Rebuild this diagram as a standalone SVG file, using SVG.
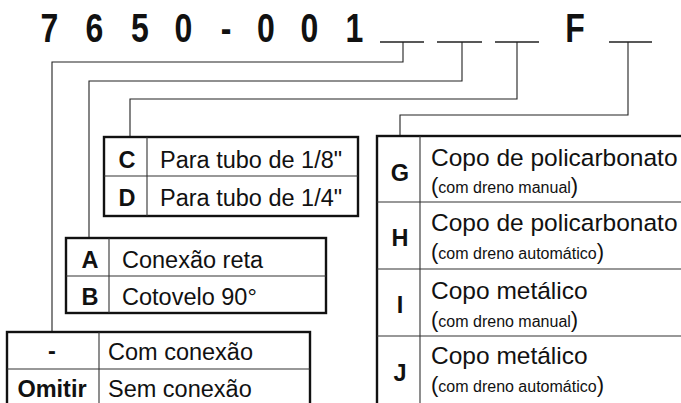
<svg xmlns="http://www.w3.org/2000/svg" width="681" height="403" viewBox="0 0 681 403">
<style>
.box{fill:none;stroke:#111;stroke-width:2.4}
.div{fill:none;stroke:#333;stroke-width:1.1}
.con{fill:none;stroke:#222;stroke-width:1.1}
.t{font-family:"Liberation Sans",Arial,sans-serif;font-size:23.5px;fill:#111}
.g{font-size:24.5px}
.b{font-family:"Liberation Sans",Arial,sans-serif;font-size:23.5px;font-weight:bold;fill:#111;text-anchor:middle}
.s{font-size:16px}
.p{font-size:22px}
.title{font-family:"Liberation Sans",Arial,sans-serif;font-size:40px;font-weight:bold;fill:#111;text-anchor:middle}
</style>
<rect width="681" height="403" fill="#fff"/>
<g id="title">
<text class="title" transform="scale(0.8,1)" x="61.9 118.1 175 229.4 282.5 332.5 386.9 443.1" y="42">7650-001</text>
<text class="title" transform="scale(0.8,1)" x="718.75" y="42">F</text>
<path class="con" style="stroke-width:1.6" d="M380,42H424M437,42H482M495,42H539M609,42H652"/>
</g>
<g id="connectors">
<path class="con" d="M403,42V62H52V332"/>
<path class="con" d="M462,42V81H89V238"/>
<path class="con" d="M517,42V99H130V137"/>
<path class="con" d="M628,42V115H400V136"/>
</g>
<g id="node-cd">
<rect class="box" x="104" y="137" width="254" height="79"/>
<path class="div" d="M147,137V216M104,176H358"/>
<text class="b" x="127" y="168">C</text>
<text class="t" x="160" y="168">Para tubo de 1/8"</text>
<text class="b" x="127" y="206">D</text>
<text class="t" x="160" y="206">Para tubo de 1/4"</text>
</g>
<g id="node-ab">
<rect class="box" x="66" y="238" width="260" height="75"/>
<path class="div" d="M109,238V313M66,276H326"/>
<text class="b" x="90" y="268">A</text>
<text class="t" x="122" y="268">Conexão reta</text>
<text class="b" x="90" y="305">B</text>
<text class="t" x="122" y="305">Cotovelo 90°</text>
</g>
<g id="node-omitir">
<rect class="box" x="7" y="332" width="303" height="80"/>
<path class="div" d="M99,332V412M7,369H310"/>
<text class="b" x="52" y="359">-</text>
<text class="t" x="108" y="360">Com conexão</text>
<text class="b" x="52" y="397">Omitir</text>
<text class="t" x="108" y="397">Sem conexão</text>
</g>
<g id="node-ghij">
<rect class="box" x="377" y="136" width="320" height="280"/>
<path class="div" d="M420,136V416M377,202H697M377,269H697M377,336H697"/>
<text class="b" x="400" y="181">G</text>
<text class="t g" x="431" y="166">Copo de policarbonato</text>
<text class="t" x="431" y="193"><tspan class="p">(</tspan><tspan class="s">com dreno manual</tspan><tspan class="p">)</tspan></text>
<text class="b" x="400" y="246">H</text>
<text class="t g" x="431" y="231">Copo de policarbonato</text>
<text class="t" x="431" y="259"><tspan class="p">(</tspan><tspan class="s">com dreno automático</tspan><tspan class="p">)</tspan></text>
<text class="b" x="400" y="313">I</text>
<text class="t g" x="431" y="299">Copo metálico</text>
<text class="t" x="431" y="327"><tspan class="p">(</tspan><tspan class="s">com dreno manual</tspan><tspan class="p">)</tspan></text>
<text class="b" x="400" y="381">J</text>
<text class="t g" x="431" y="364">Copo metálico</text>
<text class="t" x="431" y="392"><tspan class="p">(</tspan><tspan class="s">com dreno automático</tspan><tspan class="p">)</tspan></text>
</g>
</svg>
